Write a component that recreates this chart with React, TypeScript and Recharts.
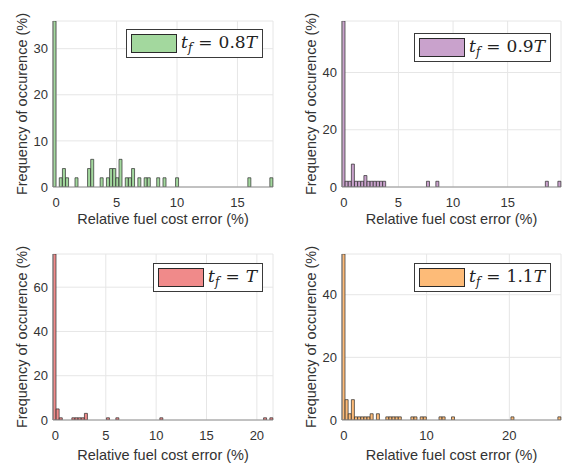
import React from "react";
import { BarChart, Bar, XAxis, YAxis, CartesianGrid, Legend } from "recharts";

const BIN_COUNT = 70;

// t_f = 0.8T : bin index -> frequency (%)
const greenBins = [0, 2, 3, 4, 7, 11, 12, 15, 17, 18, 19, 20, 21, 23, 24, 25, 27, 29, 30, 33, 35, 39, 62, 69];
const greenFreq = [36, 2, 4, 2, 2, 4, 6, 2, 2, 4, 4, 2, 6, 2, 2, 4, 2, 2, 2, 2, 2, 2, 2, 2];

// t_f = 0.9T
const purpleBins = [0, 1, 2, 3, 4, 5, 6, 7, 8, 9, 10, 11, 12, 13, 27, 30, 65, 69];
const purpleFreq = [58, 2, 2, 8, 2, 2, 2, 4, 2, 2, 2, 2, 2, 2, 2, 2, 2, 2];

// t_f = T
const redBins = [0, 1, 2, 6, 7, 8, 9, 10, 17, 20, 34, 67, 69];
const redFreq = [75, 5, 1, 1, 1, 1, 1, 3, 1, 1, 1, 1, 1];

// t_f = 1.1T
const orangeBins = [0, 1, 2, 3, 4, 5, 6, 7, 8, 9, 11, 14, 15, 16, 17, 18, 22, 23, 25, 26, 31, 32, 35, 54, 69];
const orangeFreq = [53, 6.5, 2, 6.5, 1, 1, 1, 1, 1, 2, 2, 1, 1, 1, 1, 1, 1, 1, 1, 1, 1, 1, 1, 1, 1];

const xLabel = "Relative fuel cost error (%)";
const yLabel = "Frequency of occurence (%)";

const TEXT = "#333333";
const SANS = '"Liberation Sans", Arial, sans-serif';

interface PanelProps {
  bins: number[];
  freq: number[];
  start: number;
  binWidth: number;
  xTicks: number[];
  yMax: number;
  yTicks: number[];
  color: string;
  legend: React.ReactNode;
  width: number;
  labelOffset: number;
  legendTop: number;
}

function Panel({ bins, freq, start, binWidth, xTicks, yMax, yTicks, color, legend, width, labelOffset, legendTop }: PanelProps) {
  const data = Array.from({ length: BIN_COUNT }, (_, i) => ({
    bin: i,
    x: start + (i + 0.5) * binWidth,
    freq: 0,
  }));
  bins.forEach((b, k) => {
    data[b].freq = freq[k];
  });
  const end = start + BIN_COUNT * binWidth;

  return (
    <BarChart
      width={width}
      height={232}
      data={data}
      margin={{ top: 21, right: 2, bottom: 0, left: 0 }}
      barCategoryGap={0}
      barGap={0}
    >
      <CartesianGrid xAxisId="num" stroke="#e6e6e6" />
      <XAxis xAxisId="bin" dataKey="bin" hide height={0} />
      <XAxis
        xAxisId="num"
        dataKey="x"
        type="number"
        domain={[start, end]}
        allowDataOverflow
        ticks={xTicks}
        interval={0}
        height={45}
        tickLine={false}
        tickSize={0}
        tickMargin={11}
        axisLine={{ stroke: "#909090" }}
        tick={{ fill: TEXT, fontSize: 13, fontFamily: SANS }}
        label={{ value: xLabel, position: "insideBottom", offset: labelOffset, fill: TEXT, fontSize: 14.5, fontFamily: SANS }}
      />
      <YAxis
        type="number"
        domain={[0, yMax]}
        allowDataOverflow
        ticks={yTicks}
        interval={0}
        width={53}
        tickLine={false}
        tickSize={0}
        tickMargin={5}
        axisLine={{ stroke: "#909090" }}
        tick={{ fill: TEXT, fontSize: 13, fontFamily: SANS }}
        label={{ value: yLabel, angle: -90, position: "insideLeft", offset: 22, textAnchor: "middle", fill: TEXT, fontSize: 14.5, fontFamily: SANS }}
      />
      <Bar xAxisId="bin" dataKey="freq" fill={color} stroke="#2a2a2a" strokeWidth={0.7} isAnimationActive={false} />
      <Legend
        layout="horizontal"
        verticalAlign="middle"
        align="center"
        wrapperStyle={{ top: legendTop, right: 12, left: "auto", width: "auto", height: "auto" }}
        content={() => (
          <div
            style={{
              display: "flex",
              alignItems: "center",
              border: "1px solid #3a3a3a",
              background: "#fff",
              padding: "3px 5px 3px 4px",
            }}
          >
            <div style={{ width: 46, height: 19, boxSizing: "border-box", background: color, border: "1px solid #2a2a2a" }} />
            <div
              style={{
                marginLeft: 4,
                fontFamily: '"DejaVu Serif", serif',
                fontSize: 17,
                lineHeight: "19px",
                color: "#222",
                whiteSpace: "nowrap",
              }}
            >
              {legend}
            </div>
          </div>
        )}
      />
    </BarChart>
  );
}

function Formula({ rhs }: { rhs: React.ReactNode }) {
  return (
    <span>
      <i>t</i>
      <i style={{ fontSize: 12, position: "relative", top: 4 }}>f</i>
      <span style={{ margin: "0 6px" }}>=</span>
      {rhs}
    </span>
  );
}

export default function App() {
  return (
    <div style={{ position: "fixed", left: 0, top: 0, width: 563, height: 464, background: "#fff", overflow: "hidden" }}>
      <div style={{ position: "absolute", left: 0, top: 0 }}>
        <Panel
          bins={greenBins}
          freq={greenFreq}
          start={-0.26}
          binWidth={0.26}
          xTicks={[0, 5, 10, 15]}
          yMax={36}
          yTicks={[0, 10, 20, 30]}
          color="#a3d89e"
          legend={<Formula rhs={<>0.8<i>T</i></>} />}
          width={275}
          labelOffset={8}
          legendTop={29}
        />
      </div>
      <div style={{ position: "absolute", left: 289, top: 0 }}>
        <Panel
          bins={purpleBins}
          freq={purpleFreq}
          start={-0.17}
          binWidth={0.2865}
          xTicks={[0, 5, 10, 15]}
          yMax={58}
          yTicks={[0, 20, 40]}
          color="#c9a2cc"
          legend={<Formula rhs={<>0.9<i>T</i></>} />}
          width={274}
          labelOffset={8}
          legendTop={33}
        />
      </div>
      <div style={{ position: "absolute", left: 0, top: 233 }}>
        <Panel
          bins={redBins}
          freq={redFreq}
          start={-0.24}
          binWidth={0.312}
          xTicks={[0, 5, 10, 15, 20]}
          yMax={75}
          yTicks={[0, 20, 40, 60]}
          color="#f08a8a"
          legend={<Formula rhs={<i>T</i>} />}
          width={275}
          labelOffset={5}
          legendTop={30}
        />
      </div>
      <div style={{ position: "absolute", left: 289, top: 233 }}>
        <Panel
          bins={orangeBins}
          freq={orangeFreq}
          start={-0.22}
          binWidth={0.378}
          xTicks={[0, 10, 20]}
          yMax={53}
          yTicks={[0, 20, 40]}
          color="#fdbb78"
          legend={<Formula rhs={<>1.1<i>T</i></>} />}
          width={274}
          labelOffset={5}
          legendTop={30}
        />
      </div>
    </div>
  );
}
